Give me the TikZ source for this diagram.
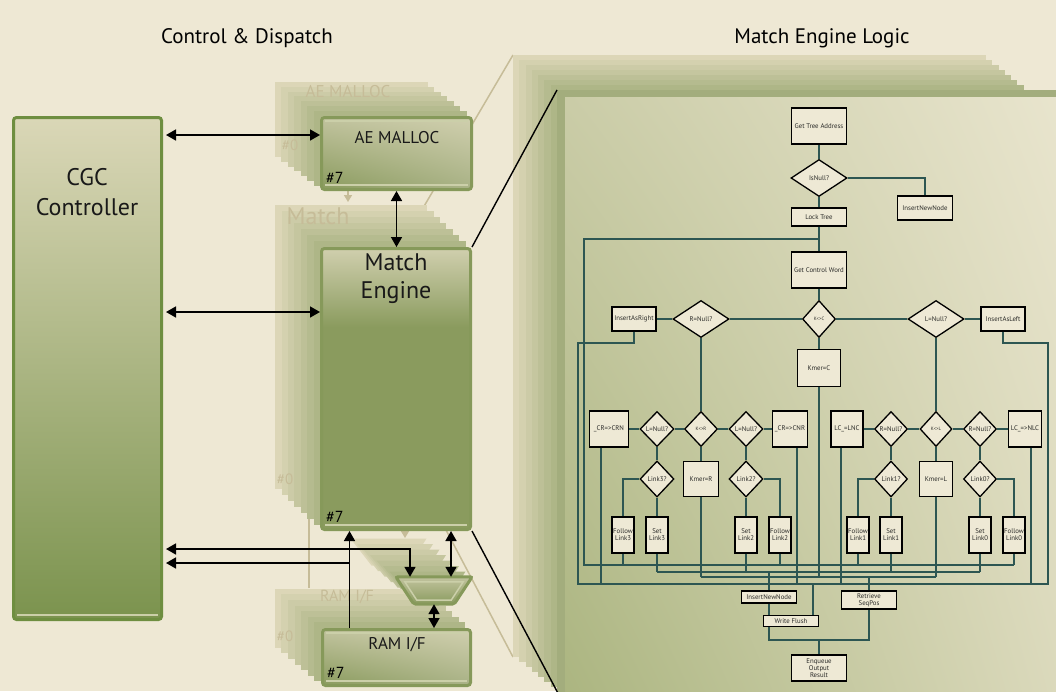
\documentclass[tikz,border=0pt]{standalone}
\usepackage{fontspec}
\setmainfont{PT Sans}
\usetikzlibrary{arrows.meta,positioning,shapes.geometric,shadings}

\definecolor{paper}{HTML}{EEE8D4}
\definecolor{stacktan}{HTML}{E1DABD}
\definecolor{stackgreen}{HTML}{A6B07F}
\definecolor{ghostink}{HTML}{C6BC98}
\definecolor{rim}{HTML}{86995A}
\definecolor{cgcrim}{HTML}{6E8E40}
\definecolor{cgctop}{HTML}{DAD7B7}
\definecolor{cgcmid}{HTML}{B2B98C}
\definecolor{cgcbot}{HTML}{7B934E}
\definecolor{blockhi}{HTML}{D0CFAE}
\definecolor{blocksoft}{HTML}{C1C39E}
\definecolor{blockmid}{HTML}{A9B286}
\definecolor{blocklo}{HTML}{8A9B5E}
\definecolor{sheencol}{HTML}{CBCFA9}
\definecolor{panelrim}{HTML}{A3AD7D}
\definecolor{panelnw}{HTML}{CACCA7}
\definecolor{panelne}{HTML}{E9E5CE}
\definecolor{panelsw}{HTML}{ABB580}
\definecolor{panelse}{HTML}{DCDABD}
\definecolor{flowfill}{HTML}{EEE9D5}
\definecolor{flowink}{HTML}{2A2A28}
\definecolor{wireteal}{HTML}{2D5652}

% light top, dark lower part
\pgfdeclareverticalshading{enginefill}{100bp}{color(0bp)=(blocklo); color(25bp)=(blocklo); color(61bp)=(blocklo); color(75bp)=(blockhi); color(100bp)=(blockhi)}

\newcommand{\flowfont}{\fontsize{6.8}{7.1}\selectfont}
\newcommand{\tinyflow}{\fontsize{4.8}{5}\selectfont}

% copies #0..#6 behind a block: front x, y, w, h, step x, step y
\newcommand{\backcopies}[6]{%
  \foreach \k in {7,6,...,1}{%
    \pgfmathtruncatemacro{\mix}{100-13*\k}%
    \fill[stackgreen!\mix!stacktan] ({#1-#5*\k},{#2-#6*\k}) rectangle ++(#3,#4);
  }%
}

\begin{document}
\begin{tikzpicture}[x=1pt, y=-1pt,
  block/.style={draw=rim, line width=3pt, rounded corners=3pt, inner sep=0pt},
  blocktext/.style={font=\fontsize{17}{20}\selectfont, text=black!90, align=center},
  idtag/.style={font=\fontsize{16}{16}\selectfont, inner sep=0pt},
  ghostlabel/.style={text=ghostink, inner sep=0pt},
  sheen/.style={draw=sheencol, line width=1.5pt},
  duplex/.style={line width=1.6pt, {Triangle[length=10pt,width=11pt]}-{Triangle[length=10pt,width=11pt]}},
  oneway/.style={line width=1.6pt, -{Triangle[length=10pt,width=11pt]}},
  faint/.style={draw=ghostink, line width=1.5pt},
  flow/.style={draw=black, line width=1.3pt, fill=flowfill, text=flowink, font=\flowfont, inner sep=0.5pt, align=center},
  procbox/.style 2 args={flow, minimum width=#1, minimum height=#2},
  testbox/.style 2 args={flow, diamond, inner sep=0pt, minimum width=#1, minimum height=#2},
  wire/.style={draw=wireteal, line width=1.2pt}]

  \useasboundingbox (0,0) rectangle (1056,691);
  \clip (0,0) rectangle (1056,691);
  \fill[paper] (0,0) rectangle (1056,691);

  % projection lines and arrows of the #0 copies
  \draw[faint] (423,208) -- (513,55);
  \draw[faint] (426,492) -- (513,657);
  \draw[faint, -{Triangle[length=7pt,width=8pt]}] (348,150) -- (348,202);
  \draw[faint, -{Triangle[length=7pt,width=8pt]}] (405,490) -- (405,538);
  \draw[faint, -{Triangle[length=7pt,width=8pt]}] (309,588) -- (309,486);

  % logic panel and its copies
  \backcopies{557}{90}{473}{602}{6.3}{5}
  \fill[panelrim] (557,90) rectangle (1070,700);
  \shade[upper left=panelnw, upper right=panelne, lower left=panelsw, lower right=panelse] (565,97) rectangle (1070,700);
  \coordinate (paneltop) at (557,90);
  \coordinate (panelfoot) at (560,697);

  % copies of the left blocks
  \backcopies{320}{116}{153}{75}{6.5}{4.9}
  \backcopies{320}{247}{152}{284}{6.4}{6}
  \foreach \k in {7,6,...,1}{
    \pgfmathtruncatemacro{\mix}{100-13*\k}
    \fill[stackgreen!\mix!stacktan, shift={(-6.5*\k,-5.5*\k)}] (396,577) -- (472,577) -- (455,604) -- (417,604) -- cycle;
  }
  \backcopies{321}{628}{151}{59}{6.6}{5.6}

  \node[ghostlabel, font=\fontsize{17}{17}\selectfont] (aeghost) at (348,92) {AE MALLOC};
  \node[ghostlabel, font=\fontsize{24}{24}\selectfont] (matchghost) at (318,216) {Match};
  \node[ghostlabel, font=\fontsize{16}{16}\selectfont] (ramghost) at (347,597) {RAM I/F};
  \node[ghostlabel, font=\fontsize{15}{15}\selectfont] (aezero) at (290,145) {\#0};
  \node[ghostlabel, font=\fontsize{15}{15}\selectfont] (matchzero) at (285,479) {\#0};
  \node[ghostlabel, font=\fontsize{15}{15}\selectfont] (ramzero) at (285,636) {\#0};

  % front blocks
  \node[block, draw=cgcrim, shade, top color=cgctop, middle color=cgcmid, bottom color=cgcbot,
        minimum width=148pt, minimum height=502pt] (cgc) at (87.5,368.5) {};
  \node[block, shade, upper left=blocksoft, upper right=blockhi, lower left=blocklo, lower right=blockmid,
        minimum width=150pt, minimum height=72pt] (ae) at (396.5,153.5) {};
  \node[block, shade, shading=enginefill, minimum width=149pt, minimum height=281pt] (match) at (396,389) {};
  \node[block, shade, upper left=blocksoft, upper right=blockhi, lower left=blocklo, lower right=blockmid,
        minimum width=148pt, minimum height=56pt] (ram) at (396.5,657.5) {};
  % selector between engine and RAM
  \node[inner sep=0pt, minimum width=76pt, minimum height=27pt] (mux) at (434,590.5) {};
  \shade[draw=rim, line width=3pt, rounded corners=2pt, top color=blocksoft, bottom color=blocklo]
    (mux.north west) -- (mux.north east) -- ([xshift=-18pt]mux.south east) -- ([xshift=18pt]mux.south west) -- cycle;
  \draw[sheen] ([xshift=9pt,yshift=-5pt]mux.north west) -- ([xshift=-9pt,yshift=-5pt]mux.north east)
    -- ([xshift=-21pt,yshift=4pt]mux.south east) -- ([xshift=21pt,yshift=4pt]mux.south west) -- cycle;

  \foreach \b in {ae,ram}{
    \draw[sheen] ([xshift=5pt,yshift=-5pt]\b.north west) -- ([xshift=-5pt,yshift=-5pt]\b.north east);
  }
  \foreach \b in {cgc,ae,match,ram}{
    \draw[sheen] ([xshift=5pt,yshift=6pt]\b.south west) -- ([xshift=-5pt,yshift=6pt]\b.south east);
  }

  \node[blocktext, font=\fontsize{24}{30}\selectfont] (cgclabel) at (87,192) {CGC\\Controller};
  \node[blocktext] (aelabel) at (397,138) {AE MALLOC};
  \node[blocktext, font=\fontsize{24}{28}\selectfont] (matchlabel) at (396,279) {Match\\Engine};
  \node[blocktext] (ramlabel) at (397,645) {RAM I/F};
  \node[idtag, above right=7pt and 6pt of ae.south west] (aetag) {\#7};
  \node[idtag, above right=8pt and 6pt of match.south west] (matchtag) {\#7};
  \node[idtag, above right=8pt and 6pt of ram.south west] (ramtag) {\#7};

  % data paths
  \coordinate (aeport) at ([yshift=18.5pt]ae.west);
  \coordinate (matchport) at ([yshift=77pt]match.west);
  \coordinate (lvlA) at (0,549);
  \coordinate (lvlB) at (0,563);
  \coordinate (rdup) at ([xshift=-47pt]ram.north);
  \coordinate (muxL) at ([xshift=-24pt]mux.north);
  \coordinate (muxR) at ([xshift=17pt]mux.north);
  \draw[duplex, shorten <=3pt] (aeport -| cgc.east) -- (aeport);
  \draw[duplex, shorten <=3pt] (matchport -| cgc.east) -- (matchport);
  \draw[duplex] (ae.south) -- (ae.south |- match.north);
  \draw[oneway] (rdup) -- (rdup |- match.south);
  \draw[oneway] (rdup |- lvlB) -- ([xshift=3pt]lvlB -| cgc.east);
  \draw[duplex, shorten <=3pt] (lvlA -| cgc.east) -| (muxL);
  \draw[duplex] (muxR |- match.south) -- (muxR);
  \draw[duplex] (mux.south) -- (mux.south |- ram.north);

  % zoom lines to the logic panel
  \draw[line width=1.4pt] (match.north east) -- (paneltop);
  \draw[line width=1.4pt] (match.south east) -- (panelfoot);

  \node[font=\fontsize{21}{21}\selectfont] (dispatchtitle) at (247,38) {Control \& Dispatch};
  \node[font=\fontsize{21}{21}\selectfont] (logictitle) at (822,38) {Match Engine Logic};

  % tree walk
  \node[procbox={55pt}{36pt}] (gta) at (819,126) {Get Tree Address};
  \node[testbox={56pt}{37pt}] (isnull) at (819,178) {IsNull?};
  \node[procbox={55pt}{24pt}] (newtop) at (925,208) {InsertNewNode};
  \node[procbox={55pt}{18pt}] (lock) at (819,217) {Lock Tree};
  \node[procbox={55pt}{36pt}] (gcw) at (819,270) {Get Control Word};
  \node[testbox={33pt}{37pt}, font=\tinyflow] (kc) at (819,319) {K<>C};
  \node[testbox={56pt}{37pt}] (rnull) at (701,319) {R=Null?};
  \node[procbox={44pt}{24pt}] (insR) at (634,319) {InsertAsRight};
  \node[testbox={56pt}{37pt}] (lnull) at (936,319) {L=Null?};
  \node[procbox={44pt}{24pt}] (insL) at (1003,319) {InsertAsLeft};
  \node[procbox={43pt}{37pt}] (kmerC) at (819,368) {Kmer=C};

  % right child side
  \node[testbox={33pt}{35pt}, font=\tinyflow] (kr) at (701,429) {K<>R};
  \node[testbox={34pt}{35pt}] (lnA) at (657,429) {L=Null?};
  \node[procbox={39pt}{36pt}] (crn) at (609,429) {\_CR=>CRN};
  \node[testbox={34pt}{35pt}] (lnB) at (746,429) {L=Null?};
  \node[procbox={35pt}{36pt}] (cnr) at (790,429) {\_CR=>CNR};
  \node[testbox={34pt}{36pt}] (link3) at (657,479) {Link3?};
  \node[procbox={35pt}{35pt}] (kmerR) at (701,479) {Kmer=R};
  \node[testbox={34pt}{36pt}] (link2) at (746,479) {Link2?};
  \node[procbox={22pt}{36pt}] (fl3) at (623,535) {Follow\\Link3};
  \node[procbox={22pt}{36pt}] (sl3) at (657,535) {Set\\Link3};
  \node[procbox={22pt}{36pt}] (sl2) at (746,535) {Set\\Link2};
  \node[procbox={22pt}{36pt}] (fl2) at (780,535) {Follow\\Link2};

  % left child side
  \node[testbox={32pt}{35pt}, font=\tinyflow] (kl) at (936,429) {K<>L};
  \node[procbox={32pt}{36pt}] (lnc) at (847,429) {LC\_=LNC};
  \node[testbox={33pt}{35pt}] (rnA) at (891,429) {R=Null?};
  \node[testbox={33pt}{35pt}] (rnB) at (980,429) {R=Null?};
  \node[procbox={33pt}{36pt}] (nlc) at (1025,429) {LC\_=>NLC};
  \node[testbox={33pt}{36pt}] (link1) at (891,479) {Link1?};
  \node[procbox={33pt}{35pt}] (kmerL) at (936,479) {Kmer=L};
  \node[testbox={33pt}{36pt}] (link0) at (980,479) {Link0?};
  \node[procbox={22pt}{36pt}] (fl1) at (858,535) {Follow\\Link1};
  \node[procbox={22pt}{36pt}] (sl1) at (891,535) {Set\\Link1};
  \node[procbox={22pt}{36pt}] (sl0) at (980,535) {Set\\Link0};
  \node[procbox={22pt}{36pt}] (fl0) at (1014,535) {Follow\\Link0};

  % results
  \node[procbox={55pt}{12pt}] (newbot) at (769,597) {InsertNewNode};
  \node[procbox={55pt}{18pt}] (seqpos) at (869,600) {Retrieve\\SeqPos};
  \node[procbox={55pt}{11pt}] (flush) at (791,621) {Write Flush};
  \node[procbox={55pt}{26pt}] (enq) at (819,668) {Enqueue\\Output\\Result};

  \draw[wire] (gta) -- (isnull);
  \draw[wire] (isnull) -- (lock);
  \draw[wire] (isnull.east) -| (newtop.north);
  \draw[wire] (lock) -- (gcw);
  \draw[wire] (gcw) -- (kc);
  \draw[wire] (insR) -- (rnull) -- (kc) -- (lnull) -- (insL);
  \draw[wire] (kc) -- (kmerC);
  \draw[wire] (rnull) -- (kr);
  \draw[wire] (lnull) -- (kl);
  \draw[wire] (crn) -- (lnA) -- (kr) -- (lnB) -- (cnr);
  \draw[wire] (lnc) -- (rnA) -- (kl) -- (rnB) -- (nlc);
  \draw[wire] (lnA) -- (link3);
  \draw[wire] (kr) -- (kmerR);
  \draw[wire] (lnB) -- (link2);
  \draw[wire] (rnA) -- (link1);
  \draw[wire] (kl) -- (kmerL);
  \draw[wire] (rnB) -- (link0);
  \draw[wire] (link3.west) -| (fl3.north);
  \draw[wire] (link3) -- (sl3);
  \draw[wire] (link2) -- (sl2);
  \draw[wire] (link2.east) -| (fl2.north);
  \draw[wire] (link1.west) -| (fl1.north);
  \draw[wire] (link1) -- (sl1);
  \draw[wire] (link0) -- (sl0);
  \draw[wire] (link0.east) -| (fl0.north);

  % buses
  \coordinate (loopx) at (584,239);
  \coordinate (busF) at (0,565);
  \coordinate (busS) at (0,572);
  \coordinate (busK) at (0,577);
  \coordinate (busI) at (0,584);
  \coordinate (rx) at (578,343);
  \coordinate (lx) at (1048,343);
  \coordinate (merge) at (819,640);

  \draw[wire] (lock.south |- loopx) -- (loopx) -- (loopx |- busF) -- (fl0.south |- busF);
  \foreach \n in {fl3,fl2,fl1,fl0} \draw[wire] (\n) -- (\n.south |- busF);
  \draw[wire] (sl3.south |- busS) -- (sl0.south |- busS);
  \foreach \n in {sl3,sl2,sl1,sl0} \draw[wire] (\n) -- (\n.south |- busS);
  \draw[wire] (kmerR.south |- busK) -- (kmerL.south |- busK);
  \foreach \n in {kmerR,kmerC,kmerL} \draw[wire] (\n) -- (\n.south |- busK);
  \draw[wire] (insR) |- (rx) -- (rx |- busI) -- (lx |- busI) -- (lx) -| (insL);
  \foreach \n/\d in {crn/-8,cnr/7,lnc/-6,nlc/6}{
    \coordinate (drop) at ([xshift=\d pt]\n.south);
    \draw[wire] (drop) -- (drop |- busI);
  }
  \draw[wire] (newbot.north |- busS) -- (newbot);
  \draw[wire] (seqpos.north |- busK) -- (seqpos);
  \coordinate (fx) at ([xshift=22pt]flush.north);
  \draw[wire] (fx |- busI) -- (fx);
  \draw[wire] (newbot) -- (newbot.south |- flush.north);
  \draw[wire] (newbot.south |- flush.south) |- (merge) -| (seqpos);
  \draw[wire] (merge) -- (enq);
\end{tikzpicture}
\end{document}
